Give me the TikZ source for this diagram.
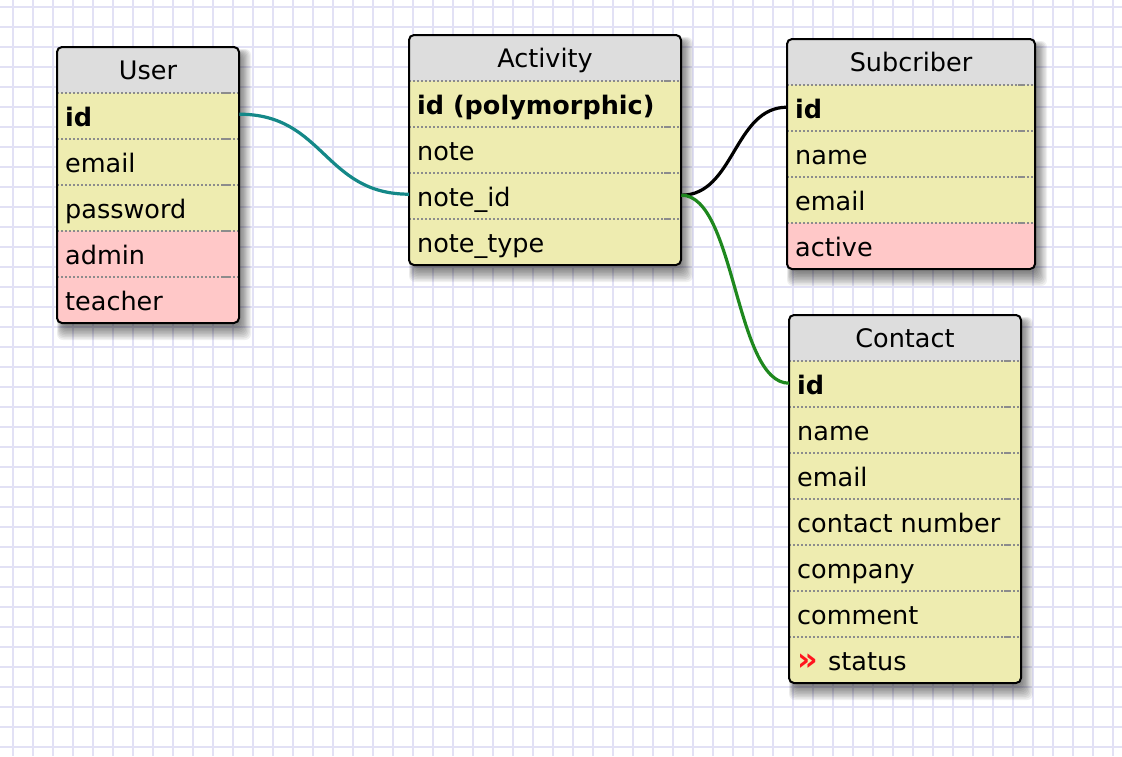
\documentclass[tikz,border=0pt]{standalone}
\usepackage{fontspec}
\setmainfont{DejaVu Sans}
\definecolor{gridcol}{RGB}{226,225,245}
\definecolor{headgray}{RGB}{221,221,221}
\definecolor{rowyellow}{RGB}{238,236,176}
\definecolor{rowpink}{RGB}{255,200,200}
\definecolor{sepgray}{RGB}{140,140,140}
\definecolor{linkteal}{RGB}{20,136,136}
\definecolor{linkgreen}{RGB}{30,136,30}
\definecolor{statusred}{RGB}{255,20,30}
\tikzset{
  gridline/.style={draw=gridcol, line width=2pt},
  cell/.style={rectangle, inner sep=0pt, minimum height=46pt},
  celltext/.style={anchor=base west, inner sep=0pt, font=\fontsize{25.5}{30}\selectfont},
  titletext/.style={anchor=base, inner sep=0pt, font=\fontsize{25.5}{30}\selectfont},
  sepline/.style={draw=sepgray, line width=2pt, dash pattern=on 2pt off 2pt},
  sepdash/.style={draw=sepgray, line width=2pt},
  tableborder/.style={draw=black, line width=2pt, rounded corners=5pt},
  link/.style={line width=3.2pt},
}
% shadow: x0 y0 x1 y1
\newcommand\erdshadow[4]{%
  \foreach \r in {1,...,10}{%
    \fill[black, opacity=0.06, rounded corners=6pt]
      ({#1+6-0.6*\r},{#2+8-0.6*\r}) rectangle ({#3+1.2*\r},{#4+2+1.5*\r});
  }%
}
% header: name x0 ytop width title
\newcommand\erdhead[5]{%
  \fill[headgray] (#2,#3) rectangle ({#2+#4},{#3+46});
  \node[cell, minimum width=#4pt, anchor=north west] (#1) at (#2,#3) {};
  \node[titletext] (#1-t) at ({#2+#4/2},{#3+32}) {#5};
}
% row: name x0 ytop width colour text
\newcommand\erdrow[6]{%
  \fill[#5] (#2,#3) rectangle ({#2+#4},{#3+46});
  \draw[sepline] (#2,#3) -- ({#2+#4},#3);
  \draw[sepdash] ({#2+#4-17},#3) -- ({#2+#4-10},#3);
  \node[cell, minimum width=#4pt, anchor=north west] (#1) at (#2,#3) {};
  \node[celltext] (#1-t) at ({#2+8},{#3+33}) {#6};
}
\begin{document}
\begin{tikzpicture}[x=1pt, y=-1pt]
\useasboundingbox (0,0) rectangle (1122,756);
\fill[white] (0,0) rectangle (1122,756);
% grid
\foreach \i in {0,...,55}{\draw[gridline] ({13.3+20*\i},0) -- ({13.3+20*\i},756);}
\foreach \j in {0,...,37}{\draw[gridline] (0,{6.7+20*\j}) -- (1122,{6.7+20*\j});}
% shadows
\erdshadow{57}{47}{239}{323}
\erdshadow{409}{35}{681}{265}
\erdshadow{787}{39}{1035}{269}
\erdshadow{789}{315}{1021}{683}

% User
\begin{scope}
  \clip[rounded corners=5pt] (57,47) rectangle (239,323);
  \erdhead{user}{57}{47}{182}{User}
  \erdrow{user-id}{57}{93}{182}{rowyellow}{\textbf{id}}
  \erdrow{user-email}{57}{139}{182}{rowyellow}{email}
  \erdrow{user-password}{57}{185}{182}{rowyellow}{password}
  \erdrow{user-admin}{57}{231}{182}{rowpink}{admin}
  \erdrow{user-teacher}{57}{277}{182}{rowpink}{teacher}
\end{scope}
\draw[tableborder] (57,47) rectangle (239,323);

% Activity
\begin{scope}
  \clip[rounded corners=5pt] (409,35) rectangle (681,265);
  \erdhead{act}{409}{35}{272}{Activity}
  \erdrow{act-id}{409}{81}{272}{rowyellow}{\textbf{id (polymorphic)}}
  \erdrow{act-note}{409}{127}{272}{rowyellow}{note}
  \erdrow{act-noteid}{409}{173}{272}{rowyellow}{note\_id}
  \erdrow{act-notetype}{409}{219}{272}{rowyellow}{note\_type}
\end{scope}
\draw[tableborder] (409,35) rectangle (681,265);

% Subcriber
\begin{scope}
  \clip[rounded corners=5pt] (787,39) rectangle (1035,269);
  \erdhead{sub}{787}{39}{248}{Subcriber}
  \erdrow{sub-id}{787}{85}{248}{rowyellow}{\textbf{id}}
  \erdrow{sub-name}{787}{131}{248}{rowyellow}{name}
  \erdrow{sub-email}{787}{177}{248}{rowyellow}{email}
  \erdrow{sub-active}{787}{223}{248}{rowpink}{active}
\end{scope}
\draw[tableborder] (787,39) rectangle (1035,269);

% Contact
\begin{scope}
  \clip[rounded corners=5pt] (789,315) rectangle (1021,683);
  \erdhead{con}{789}{315}{232}{Contact}
  \erdrow{con-id}{789}{361}{232}{rowyellow}{\textbf{id}}
  \erdrow{con-name}{789}{407}{232}{rowyellow}{name}
  \erdrow{con-email}{789}{453}{232}{rowyellow}{email}
  \erdrow{con-number}{789}{499}{232}{rowyellow}{contact number}
  \erdrow{con-company}{789}{545}{232}{rowyellow}{company}
  \erdrow{con-comment}{789}{591}{232}{rowyellow}{comment}
  \erdrow{con-status}{789}{637}{232}{rowyellow}{\makebox[31pt][l]{\textcolor{statusred}{\fontsize{32}{32}\selectfont\bfseries »}}status}
\end{scope}
\draw[tableborder] (789,315) rectangle (1021,683);

% connectors
\draw[link, draw=linkteal] ([yshift=2pt]user-id.east) .. controls +(85,0) and +(-85,0) .. ([yshift=2pt]act-noteid.west);
\draw[link, draw=black] ([yshift=1pt]act-noteid.east) .. controls +(53,0) and +(-53,0) .. ([yshift=1pt]sub-id.west);
\draw[link, draw=linkgreen] ([yshift=1pt]act-noteid.east) .. controls +(54,0) and +(-54,0) .. ([yshift=1pt]con-id.west);
\end{tikzpicture}
\end{document}
